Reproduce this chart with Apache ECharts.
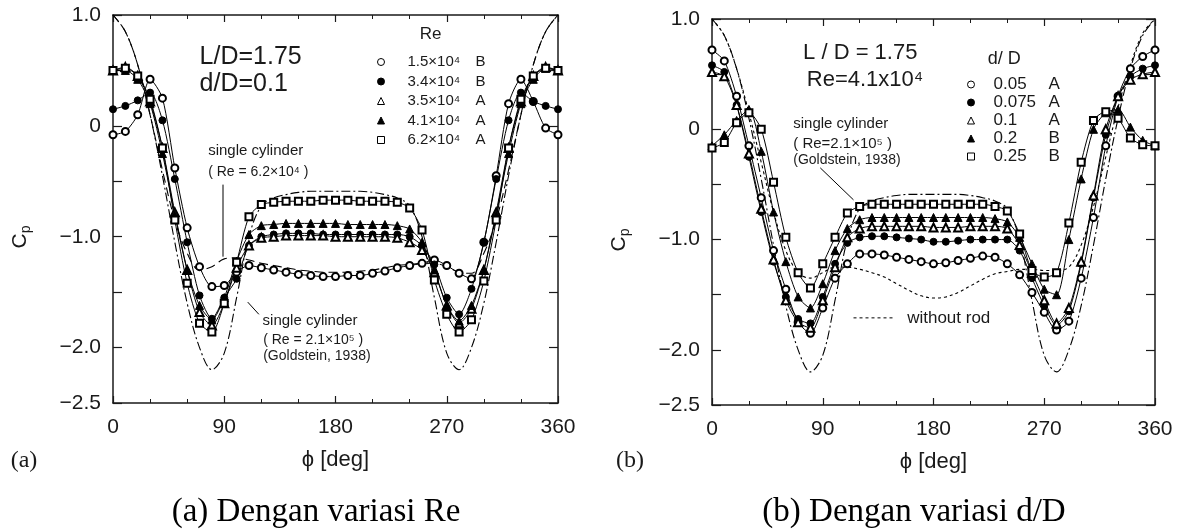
<!DOCTYPE html>
<html><head><meta charset="utf-8">
<script src="https://cdn.jsdelivr.net/npm/echarts@6/dist/echarts.min.js"></script>
<style>html,body{margin:0;padding:0;background:#fff}#c{width:1189px;height:532px}</style>
</head><body><div id="c"></div>
<script>
// ---------- data ----------
const phi = [0,10,20,30,40,50,60,70,80,90,100,110,120,130,140,150,160,170,180,190,200,210,220,230,240,250,260,270,280,290,300,310,320,330,340,350,360];

// panel (a): L/D = 1.75, d/D = 0.1, varying Re
const reLabels = ['1.5×10⁴','3.4×10⁴','3.5×10⁴','4.1×10⁴','6.2×10⁴'];
const reModes  = ['B','B','A','A','A'];
const re15 = [-0.08,-0.05,0.10,0.42,0.25,-0.38,-0.92,-1.27,-1.45,-1.44,-1.32,-1.26,-1.28,-1.30,-1.32,-1.34,-1.35,-1.36,-1.36,-1.35,-1.35,-1.33,-1.31,-1.28,-1.26,-1.24,-1.21,-1.26,-1.33,-1.38,-1.05,-0.45,0.20,0.42,0.22,-0.02,-0.08];
const re34 = [0.15,0.18,0.23,0.30,0.05,-0.48,-1.05,-1.53,-1.74,-1.55,-1.38,-1.08,-1.00,-0.98,-0.97,-0.97,-0.97,-0.98,-0.98,-0.98,-0.98,-0.98,-0.98,-0.98,-1.00,-1.08,-1.25,-1.55,-1.70,-1.47,-1.05,-0.48,0.05,0.30,0.22,0.18,0.15];
const re35 = [0.50,0.53,0.45,0.22,-0.20,-0.78,-1.30,-1.68,-1.80,-1.60,-1.28,-1.08,-1.01,-1.00,-0.99,-0.99,-0.99,-0.99,-1.00,-1.00,-1.00,-1.00,-1.00,-1.01,-1.05,-1.12,-1.32,-1.62,-1.78,-1.65,-1.30,-0.78,-0.20,0.22,0.45,0.53,0.50];
const re41 = [0.50,0.50,0.42,0.20,-0.25,-0.80,-1.30,-1.62,-1.75,-1.55,-1.22,-0.98,-0.90,-0.89,-0.88,-0.88,-0.88,-0.88,-0.88,-0.89,-0.89,-0.89,-0.89,-0.90,-0.93,-1.05,-1.30,-1.62,-1.76,-1.62,-1.30,-0.80,-0.25,0.20,0.42,0.52,0.50];
const re62 = [0.50,0.52,0.45,0.24,-0.20,-0.85,-1.42,-1.78,-1.86,-1.60,-1.23,-0.82,-0.71,-0.69,-0.68,-0.68,-0.68,-0.67,-0.67,-0.67,-0.68,-0.68,-0.68,-0.69,-0.74,-0.94,-1.39,-1.70,-1.86,-1.75,-1.40,-0.85,-0.20,0.24,0.45,0.52,0.50];
// single cylinder, Re = 6.2×10⁴ (long dash)
const single62 = [1.00,0.85,0.55,0.10,-0.40,-0.85,-1.15,-1.30,-1.27,-1.20,-1.19,-1.21,-1.24,-1.26,-1.28,-1.30,-1.31,-1.32,-1.32,-1.32,-1.31,-1.30,-1.28,-1.26,-1.25,-1.24,-1.24,-1.27,-1.32,-1.33,-1.15,-0.85,-0.40,0.10,0.55,0.85,1.00];
// single cylinder, Re = 2.1×10⁵, Goldstein 1938 (dash-dot), both panels
const goldstein = [1.00,0.85,0.55,0.10,-0.45,-1.05,-1.60,-2.00,-2.20,-2.05,-1.55,-1.00,-0.72,-0.65,-0.62,-0.60,-0.59,-0.59,-0.59,-0.59,-0.59,-0.60,-0.62,-0.65,-0.72,-1.00,-1.55,-2.05,-2.20,-2.00,-1.60,-1.05,-0.45,0.10,0.55,0.85,1.00];

// panel (b): L/D = 1.75, Re = 4.1×10⁴, varying d/D
const dLabels = ['0.05','0.075','0.1','0.2','0.25'];
const dModes  = ['A','A','A','B','B'];
const d005  = [0.72,0.62,0.30,-0.15,-0.62,-1.10,-1.45,-1.75,-1.85,-1.62,-1.35,-1.22,-1.13,-1.13,-1.14,-1.16,-1.18,-1.20,-1.22,-1.21,-1.19,-1.17,-1.15,-1.16,-1.22,-1.32,-1.48,-1.66,-1.82,-1.74,-1.35,-0.80,-0.15,0.30,0.55,0.66,0.72];
const d0075 = [0.58,0.52,0.22,-0.25,-0.75,-1.20,-1.52,-1.72,-1.76,-1.52,-1.22,-1.03,-0.98,-0.97,-0.97,-0.98,-0.99,-1.00,-1.02,-1.02,-1.01,-1.00,-1.00,-1.00,-1.00,-1.10,-1.35,-1.60,-1.78,-1.65,-1.22,-0.62,-0.05,0.30,0.48,0.55,0.58];
const d01   = [0.52,0.48,0.22,-0.22,-0.72,-1.18,-1.55,-1.75,-1.80,-1.55,-1.25,-0.98,-0.90,-0.88,-0.88,-0.88,-0.88,-0.88,-0.89,-0.89,-0.89,-0.88,-0.88,-0.88,-0.90,-1.05,-1.30,-1.55,-1.76,-1.62,-1.20,-0.60,0.00,0.30,0.45,0.50,0.52];
const d02   = [-0.15,-0.05,0.08,0.18,-0.20,-0.75,-1.20,-1.52,-1.62,-1.40,-1.10,-0.90,-0.82,-0.80,-0.80,-0.80,-0.80,-0.80,-0.80,-0.80,-0.80,-0.80,-0.80,-0.81,-0.84,-0.98,-1.22,-1.45,-1.50,-1.00,-0.45,0.00,0.15,0.18,0.02,-0.10,-0.15];
const d025  = [-0.17,-0.12,0.06,0.15,0.00,-0.48,-0.98,-1.30,-1.44,-1.22,-0.98,-0.76,-0.70,-0.68,-0.68,-0.68,-0.68,-0.68,-0.68,-0.68,-0.68,-0.68,-0.68,-0.70,-0.74,-0.95,-1.28,-1.34,-1.30,-0.85,-0.30,0.08,0.16,0.10,-0.08,-0.14,-0.15];
// without rod (short dash)
const noRod = [1.00,0.85,0.55,0.15,-0.30,-0.75,-1.10,-1.30,-1.35,-1.30,-1.25,-1.25,-1.27,-1.30,-1.34,-1.40,-1.46,-1.51,-1.53,-1.52,-1.48,-1.42,-1.36,-1.31,-1.29,-1.27,-1.27,-1.28,-1.28,-1.25,-1.05,-0.70,-0.25,0.20,0.58,0.87,1.00];

// tick labels
const xTickValues = [0,90,180,270,360];
const xTickLabels = ['0','90','180','270','360'];
const yTickValues = [1,0,-1,-2,-2.5];
const yTickLabels = ['1.0','0','−1.0','−2.0','−2.5'];

// ---------- chart ----------
const SANS = 'Liberation Sans, Arial, Helvetica, sans-serif';
const SERIF = 'Liberation Serif, Times New Roman, serif';
const INK = '#1a1a1a';
const chart = echarts.init(document.getElementById('c'));

const grids = [
  {left:113, top:15, width:445, height:388},
  {left:712, top:19, width:443, height:386}
];

function xAx(gi, pos){
  const main = pos === 'bottom';
  return {
    gridIndex: gi, type:'value', min:0, max:360, interval:90, position:pos,
    axisLine:{onZero:false, lineStyle:{color:INK, width:1.5}},
    axisTick:{inside:true, length:7, lineStyle:{color:INK, width:1.2}},
    minorTick:{show:true, splitNumber:3, length:4, lineStyle:{color:INK, width:1}},
    splitLine:{show:false}, minorSplitLine:{show:false},
    axisLabel:{show:main, fontFamily:SANS, fontSize:21, color:INK, margin:14,
      formatter:v=>{const i=xTickValues.indexOf(v);return i<0?'':xTickLabels[i];}},
    name: main ? 'ϕ [deg]' : '', nameLocation:'middle', nameGap:46,
    nameTextStyle:{fontFamily:SANS, fontSize:22, color:INK}
  };
}
function yAx(gi, pos){
  const main = pos === 'left';
  return {
    gridIndex: gi, type:'value', min:-2.5, max:1.0, interval:0.5, position:pos,
    axisLine:{onZero:false, lineStyle:{color:INK, width:1.5}},
    axisTick:{inside:true, length:9, lineStyle:{color:INK, width:1.2}},
    splitLine:{show:false},
    axisLabel:{show:main, fontFamily:SANS, fontSize:21, color:INK, margin:12,
      formatter:v=>{const i=yTickValues.findIndex(t=>Math.abs(t-v)<1e-9);return i<0?'':yTickLabels[i];}},
    name: main ? '{c|C}{p|p}' : '', nameLocation:'middle', nameRotate:90, nameGap:80,
    nameTextStyle:{fontFamily:SANS, color:INK, padding:[0,56,0,0],
      rich:{c:{fontFamily:SANS, fontSize:21, color:INK}, p:{fontFamily:SANS, fontSize:14, color:INK, padding:[12,0,0,0]}}}
  };
}

function pts(vals){ return phi.map((p,i)=>[p, vals[i]]); }
function markSeries(name, vals, symbol, panel){
  return {
    name, type:'line', xAxisIndex: panel*2, yAxisIndex: panel*2,
    data: pts(vals), smooth:0.25, symbol, symbolSize: symbol.indexOf('riangle')>=0 ? 8 : 7,
    showAllSymbol:true,
    lineStyle:{color:'#000', width:1}, itemStyle:{color:'#000', borderColor:'#000', borderWidth:1},
    emphasis:{disabled:true}, z:3
  };
}
function curveSeries(name, vals, dash, panel){
  return {
    name, type:'line', xAxisIndex: panel*2, yAxisIndex: panel*2,
    data: pts(vals), smooth:0.35, symbol:'none',
    lineStyle:{color:'#000', width:1.1, type:dash}, emphasis:{disabled:true}, z:2
  };
}

const symA = ['emptyCircle','circle','emptyTriangle','triangle','emptyRect'];
const valsA = [re15, re34, re35, re41, re62];
const valsB = [d005, d0075, d01, d02, d025];
const namesA = reLabels.map((l,i)=>l+' '+reModes[i]);
const namesB = dLabels.map((l,i)=>l+' '+dModes[i]);

const series = [];
series.push(curveSeries('single cylinder (Re = 2.1×10⁵)', goldstein, [9,3,2,3], 0));
series.push(curveSeries('single cylinder (Re = 6.2×10⁴)', single62, [9,5], 0));
valsA.forEach((v,i)=>series.push(markSeries(namesA[i], v, symA[i], 0)));
series.push(curveSeries('single cylinder (Re=2.1×10⁵)', goldstein, [9,3,2,3], 1));
series.push(curveSeries('without rod', noRod, [3,3], 1));
valsB.forEach((v,i)=>series.push(markSeries(namesB[i], v, symA[i], 1)));

function legendData(names){
  return names.map((n,i)=>{
    const filled = symA[i].indexOf('empty') < 0;
    const icon = symA[i].replace('empty','').toLowerCase();
    return {name:n, icon: icon,
      itemStyle:{color: filled?'#000':'#fff', borderColor:'#000', borderWidth:1}};
  });
}
function legendFmt(name){
  const k = name.lastIndexOf(' ');
  return '{v|'+name.slice(0,k)+'}{m|'+name.slice(k+1)+'}';
}

const option = {
  backgroundColor:'#fff', animation:false,
  grid: grids,
  xAxis: [xAx(0,'bottom'), xAx(0,'top'), xAx(1,'bottom'), xAx(1,'top')],
  yAxis: [yAx(0,'left'), yAx(0,'right'), yAx(1,'left'), yAx(1,'right')],
  legend: [
    {data: legendData(namesA), orient:'vertical', left:372, top:48, itemWidth:7, itemHeight:7, itemGap:1.5,
     selectedMode:false, formatter:legendFmt, symbolKeepAspect:true,
     textStyle:{fontFamily:SANS, fontSize:15, color:INK, lineHeight:18,
       rich:{v:{width:68, padding:[0,0,0,18], fontFamily:SANS, fontSize:15, color:INK}, m:{fontFamily:SANS, fontSize:15, color:INK}}}},
    {data: legendData(namesB), orient:'vertical', left:962, top:71, itemWidth:7, itemHeight:7, itemGap:1,
     selectedMode:false, formatter:legendFmt, symbolKeepAspect:true,
     textStyle:{fontFamily:SANS, fontSize:17, color:INK, lineHeight:17,
       rich:{v:{width:55, padding:[0,0,0,14], fontFamily:SANS, fontSize:17, color:INK}, m:{fontFamily:SANS, fontSize:17, color:INK}}}}
  ],
  series
};
chart.setOption(option);

// ---------- annotations placed in data coordinates ----------
function P(panel, deg, cp){ return chart.convertToPixel({xAxisIndex:panel*2, yAxisIndex:panel*2}, [deg, cp]); }
function txt(panel, deg, cp, text, size, align, family){
  const p = P(panel, deg, cp);
  return {type:'text', x:p[0], y:p[1], z:10, style:{text, fontFamily:family||SANS, fontSize:size, fill:INK,
    textAlign:align||'left', textVerticalAlign:'middle'}};
}
function seg(panel, a, b, dash){
  const p = P(panel, a[0], a[1]), q = P(panel, b[0], b[1]);
  return {type:'line', z:10, shape:{x1:p[0], y1:p[1], x2:q[0], y2:q[1]}, style:{stroke:'#000', lineWidth:1, lineDash:dash||null}};
}
const graphic = [
  txt(0, 70, 0.62, 'L/D=1.75', 25),
  txt(0, 70, 0.38, 'd/D=0.1', 25),
  txt(0, 257, 0.83, 'Re', 17, 'center'),
  txt(0, 77, -0.23, 'single cylinder', 15),
  txt(0, 77, -0.42, '( Re = 6.2×10⁴ )', 14),
  seg(0, [89,-0.53], [89,-1.18]),
  txt(0, 121, -1.76, 'single cylinder', 15),
  txt(0, 121.5, -1.93, '( Re = 2.1×10⁵ )', 14),
  txt(0, 121.5, -2.08, '(Goldstein, 1938)', 14),
  seg(0, [118,-1.70], [109,-1.59]),
  txt(1, 74, 0.69, 'L / D = 1.75', 22),
  txt(1, 77, 0.45, 'Re=4.1x10⁴', 22),
  txt(1, 224, 0.64, 'd/ D', 18),
  txt(1, 66, 0.05, 'single cylinder', 15),
  txt(1, 66, -0.13, '( Re=2.1×10⁵ )', 15),
  txt(1, 66, -0.28, '(Goldstein, 1938)', 14),
  seg(1, [88,-0.35], [115,-0.64]),
  seg(1, [115,-1.71], [148,-1.71], [3,3]),
  txt(1, 158.6, -1.71, 'without rod', 17),
  {type:'text', x:24, y:461, style:{text:'(a)', fontFamily:SERIF, fontSize:24, fill:INK, textAlign:'center', textVerticalAlign:'middle'}},
  {type:'text', x:630, y:461, style:{text:'(b)', fontFamily:SERIF, fontSize:24, fill:INK, textAlign:'center', textVerticalAlign:'middle'}},
  {type:'text', x:316, y:512, style:{text:'(a) Dengan variasi Re', fontFamily:SERIF, fontSize:33, fill:'#000', textAlign:'center', textVerticalAlign:'middle'}},
  {type:'text', x:914, y:512, style:{text:'(b) Dengan variasi d/D', fontFamily:SERIF, fontSize:33, fill:'#000', textAlign:'center', textVerticalAlign:'middle'}}
];
chart.setOption({graphic});
</script>
</body></html>
